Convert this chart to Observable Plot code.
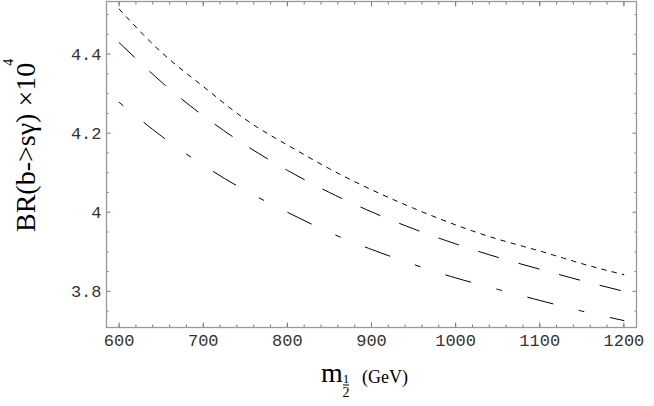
<!DOCTYPE html>
<html>
<head>
<meta charset="utf-8">
<script src="https://cdn.jsdelivr.net/npm/d3@7"></script>
<script src="https://cdn.jsdelivr.net/npm/@observablehq/plot@0.6"></script>
<style>
  html, body { margin: 0; padding: 0; background: #fff; }
  #chart { width: 654px; height: 406px; }
</style>
</head>
<body>
<div id="chart"></div>
<script>
// ---- data ----
const mass = [600, 650, 700, 750, 800, 850, 900, 950, 1000, 1050, 1100, 1150, 1200];
const brDotted  = [4.514, 4.405, 4.318, 4.235, 4.170, 4.110, 4.057, 4.010, 3.968, 3.932, 3.902, 3.870, 3.842];
const brDashed  = [4.429, 4.330, 4.244, 4.170, 4.106, 4.050, 4.001, 3.958, 3.920, 3.886, 3.856, 3.827, 3.800];
const brDashDot = [4.278, 4.193, 4.119, 4.055, 4.000, 3.949, 3.906, 3.868, 3.834, 3.805, 3.777, 3.750, 3.726];

const xTicks = [600, 700, 800, 900, 1000, 1100, 1200];
const xTickLabels = ["600", "700", "800", "900", "1000", "1100", "1200"];
const yTicks = [3.8, 4, 4.2, 4.4];
const yTickLabels = ["3.8", "4", "4.2", "4.4"];
const xMinor = d3.range(600, 1201, 20);
const yMinor = [3.75, 3.85, 3.9, 3.95, 4.05, 4.1, 4.15, 4.25, 4.3, 4.35, 4.45, 4.5];

const rows = (vals) => mass.map((m, i) => ({m, br: vals[i]}));

const tickColor = "#777";
const monoFont = "'Liberation Mono', 'DejaVu Sans Mono', monospace";

const tickMarks = [];
for (const [anchor, isX] of [["bottom", true], ["top", true], ["left", false], ["right", false]]) {
  const ax = isX ? Plot.axisX : Plot.axisY;
  tickMarks.push(ax(isX ? xMinor : yMinor, {anchor, tickSize: -2.5, fill: "none", label: null, stroke: tickColor}));
  tickMarks.push(ax(isX ? xTicks : yTicks, {anchor, tickSize: -4.5, fill: "none", label: null, stroke: tickColor}));
}

const chart = Plot.plot({
  width: 654,
  height: 406,
  marginLeft: 106,
  marginRight: 18,
  marginTop: 1,
  marginBottom: 79,
  style: {background: "#fff"},
  x: {domain: [585, 1215], axis: null},
  y: {domain: [3.7085, 4.533], axis: null},
  marks: [
    Plot.line(rows(brDotted),  {x: "m", y: "br", curve: "natural", stroke: "#000", strokeWidth: 1, strokeDasharray: "4.5,6"}),
    Plot.line(rows(brDashed),  {x: "m", y: "br", curve: "natural", stroke: "#000", strokeWidth: 1, strokeDasharray: "21,21"}),
    Plot.line(rows(brDashDot), {x: "m", y: "br", curve: "natural", stroke: "#000", strokeWidth: 1, strokeDasharray: "5,27,26,27"}),
    ...tickMarks,
    Plot.frame({stroke: "#999", strokeWidth: 1.3}),
    Plot.axisX(xTicks, {anchor: "bottom", tickSize: 0, tickPadding: 6, label: null,
      tickFormat: d => xTickLabels[xTicks.indexOf(d)], fontFamily: monoFont, fontSize: 17, fill: "#333"}),
    Plot.axisY(yTicks, {anchor: "left", tickSize: 0, tickPadding: 5, label: null,
      tickFormat: d => yTickLabels[yTicks.indexOf(d)], fontFamily: monoFont, fontSize: 17, fill: "#333"})
  ]
});

document.getElementById("chart").appendChild(chart);

// ---- axis titles (real text) ----
const svg = d3.select(chart);
const serif = "'Liberation Serif', 'Times New Roman', serif";

const yl = svg.append("text")
  .attr("transform", "translate(35,232) rotate(-90)")
  .attr("text-anchor", "start")
  .attr("font-family", serif)
  .attr("font-size", 28)
  .attr("fill", "#000");
yl.append("tspan").text("BR(b->s\u03B3) \u00D710");
yl.append("tspan").attr("font-size", 14).attr("dy", -22).attr("dx", -3).text("4");

svg.append("text")
  .attr("x", 321).attr("y", 382)
  .attr("text-anchor", "start")
  .attr("font-family", serif).attr("font-size", 28).attr("fill", "#000")
  .text("m");
svg.append("text")
  .attr("x", 346).attr("y", 383)
  .attr("text-anchor", "middle")
  .attr("font-family", serif).attr("font-size", 13).attr("fill", "#000")
  .text("1");
svg.append("line")
  .attr("x1", 343).attr("x2", 349).attr("y1", 385).attr("y2", 385)
  .attr("stroke", "#000").attr("stroke-width", 1);
svg.append("text")
  .attr("x", 346).attr("y", 397)
  .attr("text-anchor", "middle")
  .attr("font-family", serif).attr("font-size", 14).attr("fill", "#000")
  .text("2");
svg.append("text")
  .attr("x", 362).attr("y", 383)
  .attr("text-anchor", "start")
  .attr("font-family", serif).attr("font-size", 18).attr("fill", "#000")
  .text("(GeV)");
</script>
</body>
</html>
